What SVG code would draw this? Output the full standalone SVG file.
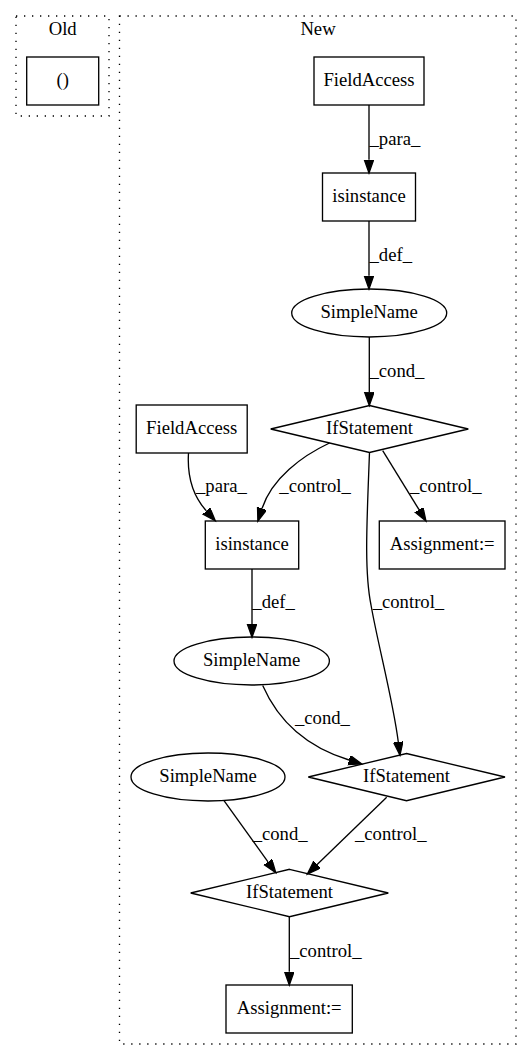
<svg xmlns="http://www.w3.org/2000/svg" width="532" height="1060" viewBox="0 0 532 1060">
<style>
text{font-family:"Liberation Serif","Times New Roman",serif;font-size:18.67px;fill:#000}
.n{text-anchor:middle}
.shape{fill:none;stroke:#000;stroke-width:1.33}
.cl{fill:none;stroke:#000;stroke-width:1.33;stroke-dasharray:1.3,6.7}
.e{fill:none;stroke:#000;stroke-width:1.33;marker-end:url(#arr)}
</style>
<defs>
<marker id="arr" markerUnits="userSpaceOnUse" markerWidth="16" markerHeight="12" refX="0" refY="4.7" orient="auto" viewBox="0 0 16 12">
<polygon points="0,0 13.3,4.7 0,9.4" fill="#000" stroke="#000" stroke-width="1.33"/>
</marker>
</defs>
<rect width="532" height="1060" fill="#fff"/>
<g id="cluster_old">
<rect class="cl" x="16" y="16" width="93" height="100"/>
<text class="n" x="62.7" y="35">Old</text>
</g>
<g id="cluster_new">
<rect class="cl" x="119.5" y="16" width="396.5" height="1028"/>
<text class="n" x="318" y="35">New</text>
</g>
<g id="old_paren">
<rect class="shape" x="26.7" y="57" width="72" height="48"/>
<text class="n" x="62.7" y="86">()</text>
</g>
<g id="fieldaccess1">
<rect class="shape" x="314" y="57" width="110" height="48"/>
<text class="n" x="369" y="86">FieldAccess</text>
</g>
<g id="isinstance1">
<rect class="shape" x="322.5" y="173" width="93" height="48"/>
<text class="n" x="369" y="202">isinstance</text>
</g>
<g id="simplename1">
<ellipse class="shape" cx="369.2" cy="313" rx="77.5" ry="24"/>
<text class="n" x="369.2" y="318">SimpleName</text>
</g>
<g id="ifstatement1">
<polygon class="shape" points="369.5,405.5 468.3,429 369.5,452.5 270.7,429"/>
<text class="n" x="369.5" y="434">IfStatement</text>
</g>
<g id="fieldaccess2">
<rect class="shape" x="136.2" y="405" width="111" height="48"/>
<text class="n" x="191.7" y="434">FieldAccess</text>
</g>
<g id="isinstance2">
<rect class="shape" x="205.3" y="521" width="93.4" height="48"/>
<text class="n" x="252" y="550">isinstance</text>
</g>
<g id="assignment1">
<rect class="shape" x="379.3" y="521" width="125.7" height="48"/>
<text class="n" x="442.2" y="550">Assignment:=</text>
</g>
<g id="simplename2">
<ellipse class="shape" cx="251.7" cy="661" rx="77.7" ry="24"/>
<text class="n" x="251.7" y="666">SimpleName</text>
</g>
<g id="ifstatement2">
<polygon class="shape" points="406.5,753.5 505,777 406.5,800.7 308.3,777"/>
<text class="n" x="406.5" y="782">IfStatement</text>
</g>
<g id="simplename3">
<ellipse class="shape" cx="208" cy="777" rx="77" ry="24"/>
<text class="n" x="208" y="782">SimpleName</text>
</g>
<g id="ifstatement3">
<polygon class="shape" points="289.5,869.3 388.3,893 289.5,916.7 190.7,893"/>
<text class="n" x="289.5" y="898">IfStatement</text>
</g>
<g id="assignment2">
<rect class="shape" x="226" y="985" width="126.3" height="48"/>
<text class="n" x="289.2" y="1014">Assignment:=</text>
</g>
<g id="edges">
<path class="e" d="M369,105 L369,159.7"/>
<text x="369.5" y="145">_para_</text>
<path class="e" d="M369,221 L369,275.7"/>
<text x="369.5" y="260.5">_def_</text>
<path class="e" d="M369.3,337 L369.3,392.2"/>
<text x="369.5" y="376.5">_cond_</text>
<path class="e" d="M188.5,453 C187,477 193,496 206.4,510.9"/>
<text x="196" y="492">_para_</text>
<path class="e" d="M329.5,443 C302,456 272,478 262,508.5"/>
<text x="279.3" y="492">_control_</text>
<path class="e" d="M382.7,450.7 L419,509.7"/>
<text x="410" y="492">_control_</text>
<path class="e" d="M369.5,452.5 C367,520 364,570 371,605 C378,645 393,700 398.3,742"/>
<text x="372.7" y="608.3">_control_</text>
<path class="e" d="M252,569 L252,624"/>
<text x="252.3" y="608.3">_def_</text>
<path class="e" d="M262.7,685.5 C280,725 310,748 349,760"/>
<text x="295" y="723.5">_cond_</text>
<path class="e" d="M224,800.7 L268,861.9"/>
<text x="252.7" y="840">_cond_</text>
<path class="e" d="M386.7,797.3 L316.9,864.8"/>
<text x="355" y="840">_control_</text>
<path class="e" d="M289.3,916.7 L289.3,971.7"/>
<text x="290" y="956.7">_control_</text>
</g>
</svg>
